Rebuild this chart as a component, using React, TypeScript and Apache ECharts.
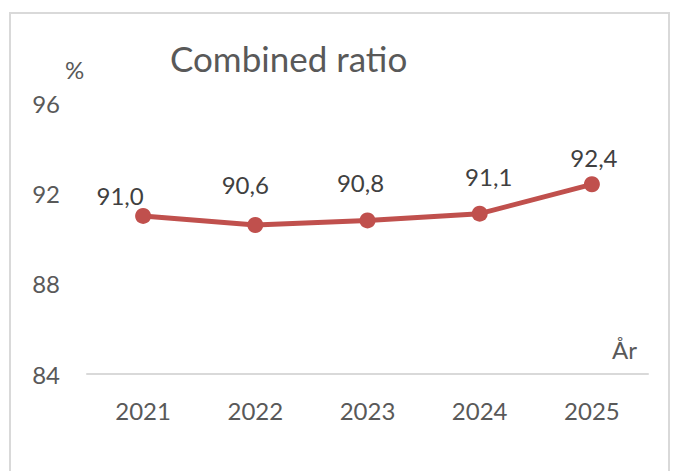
import React, { useEffect, useRef } from "react";
import * as echarts from "echarts";

const years = ["2021", "2022", "2023", "2024", "2025"];
const ratio = [91.0, 90.6, 90.8, 91.1, 92.4];
const labelOffsets: [number, number][] = [[-23, 8], [-10, -12], [-7, -10], [9, -9], [2, 1]];

const FONT = "Lato";
const TXT = "#595959";

export default function App() {
  const ref = useRef<HTMLDivElement>(null);
  useEffect(() => {
    const chart = echarts.init(ref.current!, null, { renderer: "svg" });
    chart.setOption({
      animation: false,
      backgroundColor: "#fff",
      textStyle: { fontFamily: FONT },
      grid: { left: 87, right: 25, top: 103, bottom: 97, containLabel: false },
      graphic: [
        { type: "rect", shape: { x: 10, y: 13, width: 659, height: 470 }, style: { fill: "none", stroke: "#d9d9d9", lineWidth: 2 }, silent: true },
        { type: "text", x: 170, y: 40, style: { text: "Combined ratio", fontFamily: FONT, fontSize: 35, fill: TXT } },
        { type: "text", x: 65, y: 57, style: { text: "%", fontFamily: FONT, fontSize: 24, fill: TXT } },
        { type: "text", x: 612, y: 337, style: { text: "År", fontFamily: FONT, fontSize: 24, fill: TXT } },
      ],
      xAxis: {
        type: "category",
        data: years,
        boundaryGap: true,
        axisLine: { lineStyle: { color: "#d9d9d9", width: 2 } },
        axisTick: { show: false },
        axisLabel: { color: TXT, fontSize: 24, fontFamily: FONT, margin: 24 },
      },
      yAxis: {
        type: "value",
        min: 84,
        max: 96,
        interval: 4,
        axisLine: { show: false },
        axisTick: { show: false },
        splitLine: { show: false },
        axisLabel: { color: TXT, fontSize: 24, fontFamily: FONT, margin: 27 },
      },
      series: [
        {
          type: "line",
          data: ratio.map((v, i) => ({
            value: v,
            label: { offset: labelOffsets[i] },
          })),
          lineStyle: { color: "#C0504D", width: 5 },
          itemStyle: { color: "#C0504D" },
          symbol: "circle",
          symbolSize: 16,
          label: {
            show: true,
            position: "top",
            distance: 8,
            color: "#404040",
            fontSize: 24,
            fontFamily: FONT,
            formatter: (p: any) => p.value.toFixed(1).replace(".", ","),
          },
        },
      ],
    });
    return () => chart.dispose();
  }, []);
  return <div ref={ref} style={{ position: "fixed", left: 0, top: 0, width: 673, height: 471 }} />;
}
